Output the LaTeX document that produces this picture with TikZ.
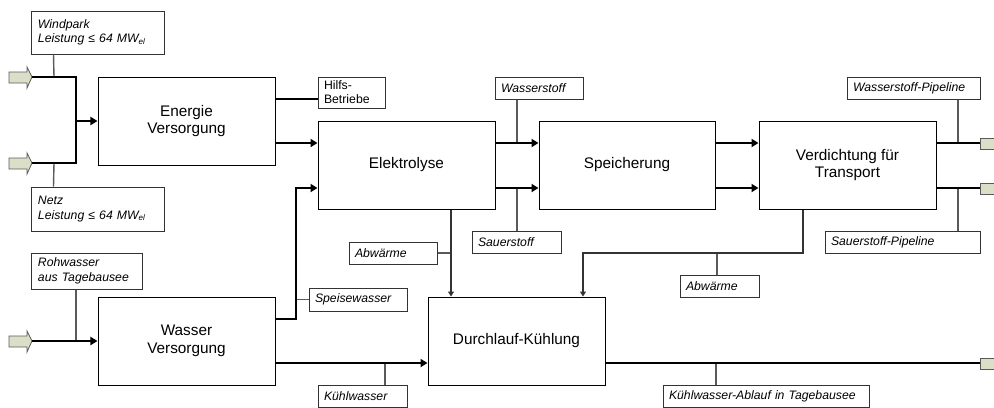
\documentclass[tikz,border=0pt]{standalone}
\usepackage{fontspec}
\setmainfont{Liberation Sans}
\usetikzlibrary{arrows.meta}
\definecolor{c1}{HTML}{DCDFC8}
\definecolor{c2}{HTML}{5A5A5A}
\definecolor{c3}{HTML}{333333}
\tikzset{
  unit/.style={draw, line width=1bp, minimum width=177bp, minimum height=88bp,
    align=center, inner sep=0pt, font=\fontsize{15.4}{17.7}\selectfont},
  tag/.style={draw=c3, line width=1bp, text width=#1, align=left, inner xsep=6bp,
    inner ysep=0pt, minimum height=22bp, font=\fontsize{12.3}{14.5}\selectfont\itshape},
  flow/.style={line width=2bp, -{Triangle[length=7bp,width=8bp]}},
  pipe/.style={line width=2bp},
  heat/.style={c3, line width=1.2bp, -{Triangle[length=5bp,width=6bp]}},
  lead/.style={c2, line width=1.4bp},
  feed/.style={draw=c2, fill=c1, line width=0.8bp, line join=miter},
}
\newcommand{\mwel}{MW{\fontsize{8}{8}\selectfont\raisebox{-1.5bp}{el}}}

\begin{document}
\begin{tikzpicture}[x=1bp, y=-1bp]
    \useasboundingbox (0,0) rectangle (994,407);

    % main units
    \node[unit] (energie) at (186.5,121) {Energie\\Versorgung};
    \node[unit] (wasser) at (186.5,341) {Wasser\\Versorgung};
    \node[unit] (elektro) at (406.5,165) {Elektrolyse};
    \node[unit, minimum width=176bp] (speicher) at (627,165) {Speicherung};
    \node[unit] (verdicht) at (847.5,165) {Verdichtung für\\Transport};
    \node[unit] (kuehlung) at (516.5,341) {Durchlauf-Kühlung};

    % labels
    \node[tag=120bp, minimum height=43bp] (windpark) at (98,32.5) {Windpark\\Leistung ≤ 64 \mwel};
    \node[tag=120bp, minimum height=44bp] (netz) at (98,209) {Netz\\Leistung ≤ 64 \mwel};
    \node[tag=98bp, minimum height=36bp] (rohwasser) at (87,271) {Rohwasser\\aus Tagebausee};
    \node[tag=55bp, minimum height=31bp, font=\fontsize{12.3}{14}\selectfont] (hilfs) at (351.5,92.5) {Hilfs-\\Betriebe};
    \node[tag=86bp, minimum height=23bp] (speise) at (358,299.5) {Speisewasser};
    \node[tag=77bp] (kuehlwasser) at (362.5,396) {Kühlwasser};
    \node[tag=76bp] (abw1) at (393,253) {Abwärme};
    \node[tag=76bp] (wstoff) at (539,88) {Wasserstoff};
    \node[tag=77bp] (sstoff) at (516.5,242) {Sauerstoff};
    \node[tag=121bp] (wpipe) at (913.5,88) {Wasserstoff-Pipeline};
    \node[tag=143bp] (spipe) at (902.5,242) {Sauerstoff-Pipeline};
    \node[tag=67bp] (abw2) at (719.5,286) {Abwärme};
    \node[tag=194bp] (ablauf) at (766,396) {Kühlwasser-Ablauf in Tagebausee};

    % block arrows in and out
    \foreach \n/\y in {1/77,2/163,3/341} {
        \draw[feed] (9,\y-5) -- (27,\y-5) -- (27,\y-10) -- (32,\y)
            -- (27,\y+11) -- (27,\y+6) -- (9,\y+6) -- cycle;
        \coordinate (in\n) at (32,\y);
    }
    \foreach \n/\y in {1/143,2/188,3/363} {
        \draw[feed] (980,\y-5) rectangle (1000,\y+6);
        \coordinate (out\n) at (980,\y);
    }

    \coordinate (bus) at (76,121);
    \coordinate (speisung) at (296,188);

    % label leads
    \draw[lead] ([xshift=22bp]windpark.south west) -- (54,77);
    \draw[lead] ([xshift=22bp]netz.north west) -- (54,163);
    \draw[lead] (rohwasser.south -| 76,0) -- (76,341);
    \draw[lead] (speise.west) -- (speise.west -| speisung);
    \draw[lead] (kuehlwasser.north -| 385,0) -- (385,363);
    \draw[lead] (abw1.east) -- (abw1.east -| 451,0);
    \draw[lead] (wstoff.south -| 517,0) -- (517,143);
    \draw[lead] (sstoff.north -| 517,0) -- (517,188);
    \draw[lead] (wpipe.south -| 958,0) -- (958,143);
    \draw[lead] (spipe.north -| 958,0) -- (958,188);
    \draw[lead] (abw2.north -| 717,0) -- (717,253);
    \draw[lead] (ablauf.north -| 716,0) -- (716,363);

    % energy and water
    \draw[pipe] (in1) -| (bus) |- (in2);
    \draw[flow] (bus) -- (energie.west |- bus);
    \draw[pipe] (energie.east |- 0,99) -- (hilfs.west |- 0,99);
    \draw[flow] (energie.east |- 0,143) -- (elektro.west |- 0,143);
    \draw[flow] (in3) -- (wasser.west);
    \draw[flow] (wasser.east |- 0,319) -| (speisung) -- (elektro.west |- speisung);
    \draw[flow] (wasser.east |- 0,363) -- (kuehlung.west |- 0,363);

    % gases
    \foreach \y in {143,188} {
        \draw[flow] (elektro.east |- 0,\y) -- (speicher.west |- 0,\y);
        \draw[flow] (speicher.east |- 0,\y) -- (verdicht.west |- 0,\y);
    }
    \draw[pipe] (verdicht.east |- out1) -- (out1);
    \draw[pipe] (verdicht.east |- out2) -- (out2);

    % cooling
    \draw[heat] (elektro.south -| 451,0) -- (kuehlung.north -| 451,0);
    \draw[heat] (verdicht.south -| 803,0) |- (583,253) -- (kuehlung.north -| 583,0);
    \draw[pipe] (kuehlung.east |- out3) -- (out3);
\end{tikzpicture}
\end{document}
